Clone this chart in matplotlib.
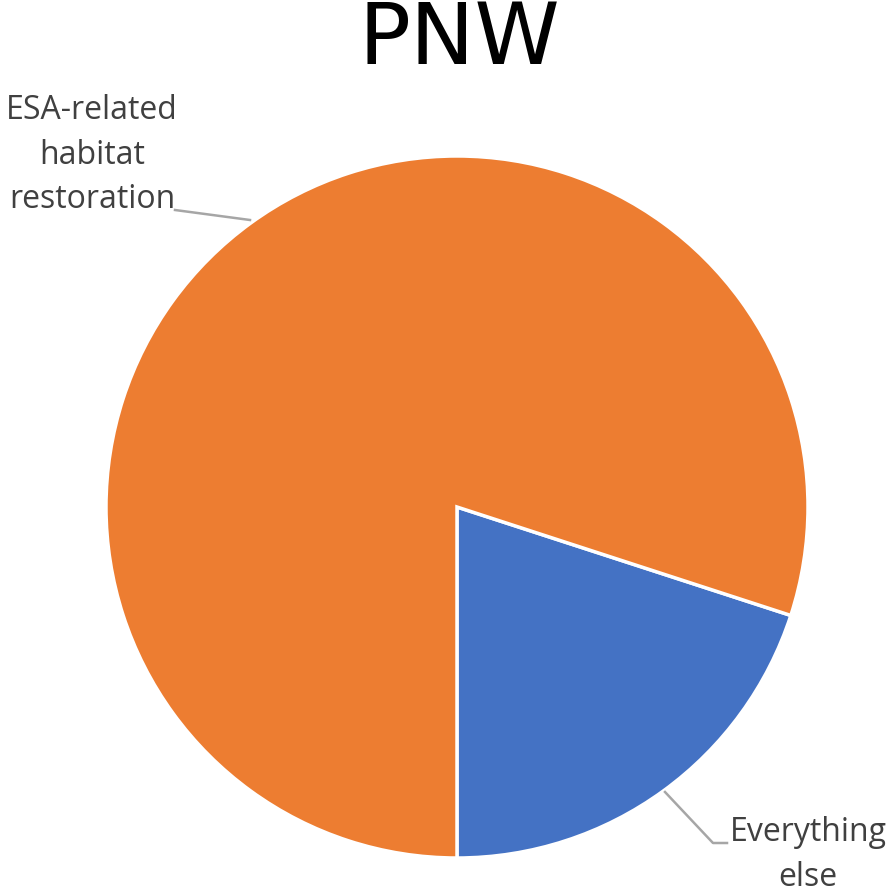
import matplotlib.pyplot as plt

labels = ["Everything else", "ESA-related habitat restoration"]
shares = [20, 80]
colors = ["#4472C4", "#ED7D31"]

W, H = 889, 892
CX, CY, R = 457, 507, 351


def to_data(px, py):
    return (px - CX) / R, (CY - py) / R


fig = plt.figure(figsize=(W / 100, H / 100), dpi=100)
ax = fig.add_axes([(CX - R) / W, (H - CY - R) / H, 2 * R / W, 2 * R / H])
ax.pie(shares, colors=colors, startangle=-90, counterclock=True, radius=1,
       wedgeprops=dict(edgecolor="white", linewidth=2.5))
ax.set_xlim(-1, 1)
ax.set_ylim(-1, 1)
ax.set_aspect("equal")
ax.axis("off")

LINE = "#A6A6A6"
TEXT = "#404040"

# leader lines
p0, p1 = to_data(175, 210), to_data(250, 220)
ax.plot([p0[0], p1[0]], [p0[1], p1[1]], color=LINE, lw=1.8, clip_on=False)
q0, q1, q2 = to_data(665, 792), to_data(713, 843), to_data(727, 843)
ax.plot([q0[0], q1[0], q2[0]], [q0[1], q1[1], q2[1]], color=LINE, lw=1.8, clip_on=False)

t = to_data(92, 155)
ax.text(t[0], t[1], "ESA-related\nhabitat\nrestoration", ha="center", va="center",
        multialignment="center", fontsize=23, color=TEXT, family="Open Sans",
        linespacing=1.45, clip_on=False)
t = to_data(808, 855)
ax.text(t[0], t[1], "Everything\nelse", ha="center", va="center",
        multialignment="center", fontsize=23, color=TEXT, family="Open Sans",
        linespacing=1.45, clip_on=False)

fig.text(459 / W, 1 - 40 / H, "PNW", ha="center", va="center", fontsize=62,
         color="black", family="DejaVu Sans")

fig.savefig("out.png", dpi=100)
